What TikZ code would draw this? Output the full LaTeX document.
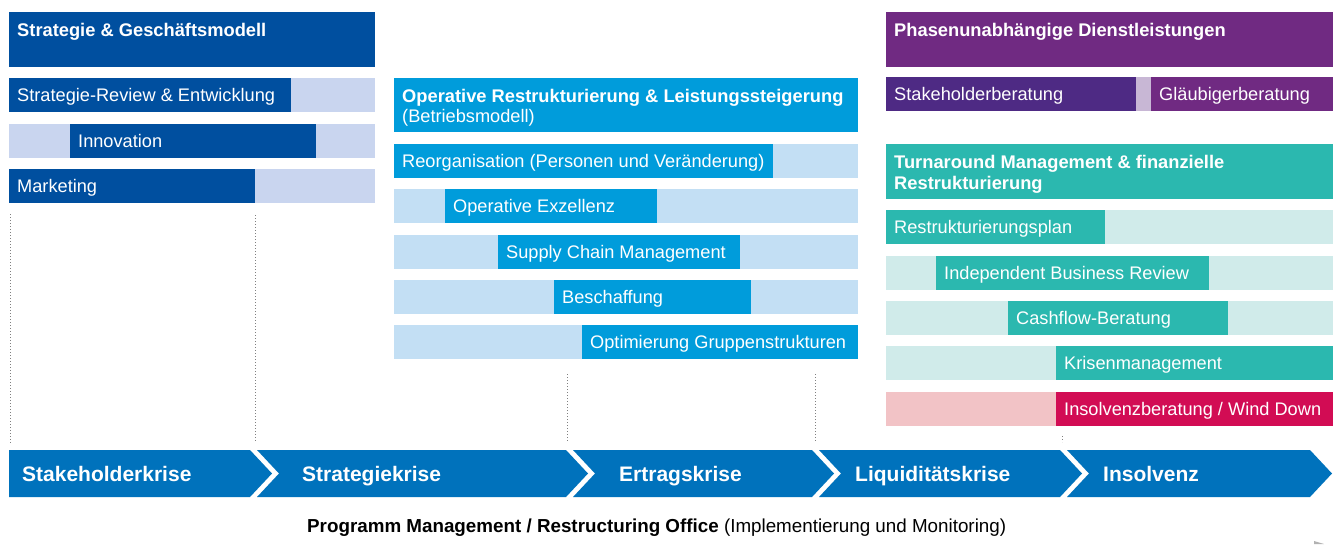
\documentclass[tikz,border=0pt]{standalone}
\usepackage{fontspec}
\setmainfont{Liberation Sans}
\usetikzlibrary{positioning,calc}

\definecolor{sgdark}{RGB}{0,79,159}
\definecolor{sglight}{RGB}{201,213,239}
\definecolor{opdark}{RGB}{0,156,219}
\definecolor{oplight}{RGB}{195,223,244}
\definecolor{phpurple}{RGB}{112,42,130}
\definecolor{phdark}{RGB}{78,42,132}
\definecolor{phgap}{RGB}{200,183,213}
\definecolor{tmteal}{RGB}{43,184,175}
\definecolor{tmlight}{RGB}{208,235,234}
\definecolor{inscrim}{RGB}{210,12,84}
\definecolor{inslight}{RGB}{242,195,198}
\definecolor{chevblue}{RGB}{0,114,188}

\begin{document}
\begin{tikzpicture}[x=1pt, y=-1pt,
    box/.style={anchor=north west, inner sep=0pt, outer sep=0pt, minimum height=34pt},
    head/.style={box, minimum height=55pt},
    htext/.style={anchor=base west, inner sep=0pt, text=white, font=\fontsize{18.3}{21}\selectfont\bfseries},
    btext/.style={anchor=west, inner xsep=8pt, inner ysep=0pt, text=white, text height=13pt, text depth=0pt, font=\fontsize{18.2}{21}\selectfont},
    chevlab/.style={anchor=west, inner sep=0pt, text=white, text height=15pt, text depth=0pt, font=\fontsize{21}{24}\selectfont\bfseries},
    dotline/.style={gray, line width=0.6pt, dash pattern=on 0.6pt off 2.4pt}
]
    \useasboundingbox (0,0) rectangle (1338,544);
    \fill[white] (0,0) rectangle (1338,544);

    % Strategie & Geschaeftsmodell
    \node[head, fill=sgdark, minimum width=366pt] (sgh) at (9,12) {};
    \node[htext] (sght) at ([xshift=8pt, yshift=-24pt]sgh.north west) {Strategie \& Geschäftsmodell};
    \fill[sglight] (9,78) rectangle (375,112);
    \fill[sglight] (9,124) rectangle (375,158);
    \fill[sglight] (9,169) rectangle (375,203);
    \node[box, fill=sgdark, minimum width=282pt, label={[btext]west:Strategie-Review \& Entwicklung}] (sgrev) at (9,78) {};
    \node[box, fill=sgdark, minimum width=246pt, label={[btext]west:Innovation}] (sginn) at (70,124) {};
    \node[box, fill=sgdark, minimum width=246pt, label={[btext]west:Marketing}] (sgmkt) at (9,169) {};

    % Operative Restrukturierung
    \node[head, fill=opdark, minimum width=464pt, minimum height=54pt] (oph) at (394,78) {};
    \node[htext] (opht) at ([xshift=8pt, yshift=-24pt]oph.north west) {Operative Restrukturierung \& Leistungssteigerung};
    \node[htext, font=\fontsize{18.2}{21}\selectfont] (ophs) at ([xshift=8pt, yshift=-44pt]oph.north west) {(Betriebsmodell)};
    \foreach \y in {144,189,235,280,325}
        \fill[oplight] (394,\y) rectangle (858,\y+34);
    \node[box, fill=opdark, minimum width=379pt, label={[btext]west:Reorganisation (Personen und Veränderung)}] (opreo) at (394,144) {};
    \node[box, fill=opdark, minimum width=212pt, label={[btext]west:Operative Exzellenz}] (opexz) at (445,189) {};
    \node[box, fill=opdark, minimum width=242pt, label={[btext]west:Supply Chain Management}] (opscm) at (498,235) {};
    \node[box, fill=opdark, minimum width=197pt, label={[btext]west:Beschaffung}] (opbes) at (554,280) {};
    \node[box, fill=opdark, minimum width=276pt, label={[btext]west:Optimierung Gruppenstrukturen}] (opgrp) at (582,325) {};

    % Phasenunabhaengige Dienstleistungen
    \node[head, fill=phpurple, minimum width=447pt] (phh) at (886,12) {};
    \node[htext] (phht) at ([xshift=8pt, yshift=-24pt]phh.north west) {Phasenunabhängige Dienstleistungen};
    \fill[phgap] (886,77) rectangle (1333,111);
    \node[box, fill=phdark, minimum width=250pt, label={[btext]west:Stakeholderberatung}] (phstk) at (886,77) {};
    \node[box, fill=phpurple, minimum width=182pt, label={[btext]west:Gläubigerberatung}] (phglb) at (1151,77) {};

    % Turnaround Management
    \node[head, fill=tmteal, minimum width=447pt] (tmh) at (886,144) {};
    \node[htext] (tmht) at ([xshift=8pt, yshift=-24pt]tmh.north west) {Turnaround Management \& finanzielle};
    \node[htext] (tmhs) at ([xshift=8pt, yshift=-45pt]tmh.north west) {Restrukturierung};
    \foreach \y in {210,256,301,346}
        \fill[tmlight] (886,\y) rectangle (1333,\y+34);
    \fill[inslight] (886,392) rectangle (1333,426);
    \node[box, fill=tmteal, minimum width=219pt, label={[btext]west:Restrukturierungsplan}] (tmplan) at (886,210) {};
    \node[box, fill=tmteal, minimum width=273pt, label={[btext]west:Independent Business Review}] (tmibr) at (936,256) {};
    \node[box, fill=tmteal, minimum width=220pt, label={[btext]west:Cashflow-Beratung}] (tmcash) at (1008,301) {};
    \node[box, fill=tmteal, minimum width=277pt, label={[btext]west:Krisenmanagement}] (tmkrise) at (1056,346) {};
    \node[box, fill=inscrim, minimum width=277pt, label={[btext]west:Insolvenzberatung / Wind Down}] (tmins) at (1056,392) {};

    % Hilfslinien
    \draw[dotline] (10,214) -- (10,443);
    \draw[dotline] (255,215) -- (255,441);
    \draw[dotline] (567,374) -- (567,441);
    \draw[dotline] (815,374) -- (815,441);
    \draw[dotline] (1062,436) -- (1062,442);

    % Krisenphasen
    \foreach \xa/\xb/\nd/\lab/\tx [count=\i] in {9/250/0/Stakeholderkrise/22, 257/566/22/Strategiekrise/302, 573/812/22/Ertragskrise/619, 819/1060/22/Liquiditätskrise/855, 1067/1310/22/Insolvenz/1103} {
        \fill[chevblue] (\xa,450) -- (\xb,450) -- (\xb+22,473.5) -- (\xb,497) -- (\xa,497) -- (\xa+\nd,473.5) -- cycle;
        \node[chevlab] (chev\i) at (\tx,473.5) {\lab};
    }

    % Programm Management
    \node[anchor=west, inner sep=0pt, font=\fontsize{18.8}{22}\selectfont] (pmo) at (307,528) {\textbf{Programm Management / Restructuring Office} (Implementierung und Monitoring)};
    \fill[gray!60] (1314,541) -- (1324,544) -- (1314,544) -- cycle;
\end{tikzpicture}
\end{document}
